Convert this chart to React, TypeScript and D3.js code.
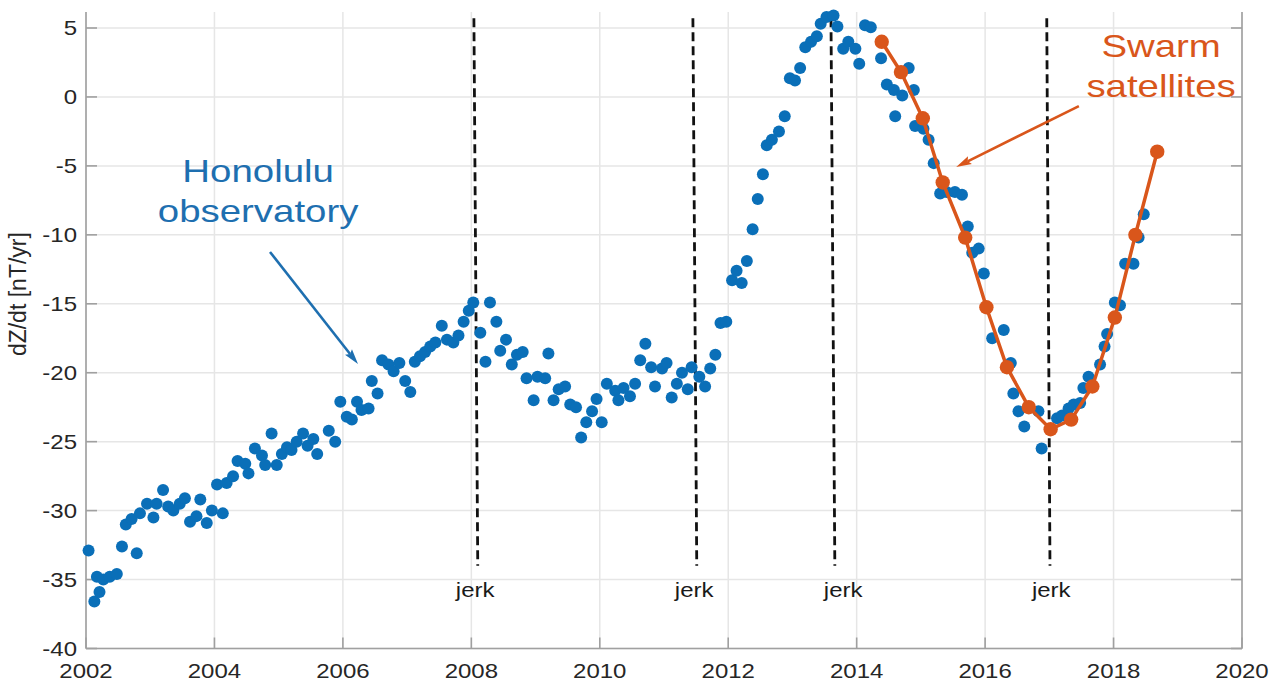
import React from "react";
import * as d3 from "d3";

// Honolulu observatory monthly dZ/dt values [year, nT/yr]
const honoluluYears = [
  2002.04, 2002.13, 2002.17, 2002.21, 2002.27, 2002.37, 2002.48, 2002.56, 2002.62, 2002.71,
  2002.79, 2002.84, 2002.95, 2003.05, 2003.10, 2003.20, 2003.28, 2003.36, 2003.46, 2003.54,
  2003.62, 2003.72, 2003.78, 2003.88, 2003.96, 2004.04, 2004.13, 2004.19, 2004.29, 2004.36,
  2004.48, 2004.53, 2004.63, 2004.74, 2004.79, 2004.89, 2004.97, 2005.05, 2005.13, 2005.20,
  2005.28, 2005.38, 2005.45, 2005.54, 2005.60, 2005.78, 2005.88, 2005.96, 2006.06, 2006.14,
  2006.22, 2006.29, 2006.40, 2006.45, 2006.54, 2006.61, 2006.71, 2006.79, 2006.88, 2006.97,
  2007.05, 2007.12, 2007.20, 2007.28, 2007.36, 2007.44, 2007.54, 2007.62, 2007.72, 2007.80,
  2007.88, 2007.96, 2008.03, 2008.14, 2008.22, 2008.29, 2008.39, 2008.45, 2008.54, 2008.63,
  2008.71, 2008.80, 2008.86, 2008.97, 2009.03, 2009.15, 2009.20, 2009.28, 2009.36, 2009.46,
  2009.54, 2009.63, 2009.71, 2009.79, 2009.88, 2009.95, 2010.03, 2010.11, 2010.24, 2010.29,
  2010.37, 2010.47, 2010.55, 2010.63, 2010.71, 2010.80, 2010.86, 2010.97, 2011.04, 2011.12,
  2011.20, 2011.28, 2011.37, 2011.43, 2011.55, 2011.64, 2011.72, 2011.80, 2011.88, 2011.97,
  2012.06, 2012.13, 2012.21, 2012.29, 2012.38, 2012.46, 2012.54, 2012.60, 2012.68, 2012.79,
  2012.88, 2012.96, 2013.04, 2013.12, 2013.20, 2013.29, 2013.38, 2013.44, 2013.53, 2013.64,
  2013.70, 2013.79, 2013.87, 2013.98, 2014.04, 2014.13, 2014.22, 2014.38, 2014.47, 2014.58,
  2014.60, 2014.71, 2014.81, 2014.89, 2014.91, 2015.04, 2015.12, 2015.20, 2015.30, 2015.40,
  2015.53, 2015.64, 2015.73, 2015.80, 2015.90, 2015.98, 2016.11, 2016.29, 2016.40, 2016.44,
  2016.52, 2016.61, 2016.83, 2016.88, 2017.12, 2017.20, 2017.30, 2017.38, 2017.48, 2017.53,
  2017.61, 2017.79, 2017.86, 2017.90, 2018.02, 2018.10, 2018.18, 2018.31, 2018.39, 2018.47,
];
const honoluluValues = [
  -32.9, -36.6, -34.8, -35.9, -35.0, -34.8, -34.6, -32.6, -31.0, -30.6,
  -33.1, -30.2, -29.5, -30.5, -29.5, -28.5, -29.7, -30.0, -29.5, -29.1,
  -30.8, -30.4, -29.2, -30.9, -30.0, -28.1, -30.2, -28.0, -27.5, -26.4,
  -26.6, -27.3, -25.5, -26.0, -26.7, -24.4, -26.7, -25.9, -25.4, -25.6,
  -25.0, -24.4, -25.3, -24.8, -25.9, -24.2, -25.0, -22.1, -23.2, -23.4,
  -22.1, -22.7, -22.6, -20.6, -21.5, -19.1, -19.4, -19.9, -19.3, -20.6,
  -21.4, -19.2, -18.8, -18.5, -18.1, -17.8, -16.6, -17.6, -17.8, -17.3,
  -16.3, -15.5, -14.9, -17.1, -19.2, -14.9, -16.3, -18.4, -17.6, -19.4,
  -18.7, -18.5, -20.4, -22.0, -20.3, -20.4, -18.6, -22.0, -21.2, -21.0,
  -22.3, -22.5, -24.7, -23.6, -22.8, -21.9, -23.6, -20.8, -21.3, -22.0,
  -21.1, -21.7, -20.8, -19.1, -17.9, -19.6, -21.0, -19.7, -19.3, -21.8,
  -20.8, -20.0, -21.2, -19.6, -20.3, -21.0, -19.7, -18.7, -16.4, -16.3,
  -13.3, -12.6, -13.5, -11.9, -9.6, -7.4, -5.6, -3.5, -3.1, -2.5,
  -1.4, 1.35, 1.2, 2.1, 3.6, 4.0, 4.4, 5.3, 5.8, 5.9,
  5.1, 3.5, 4.0, 3.5, 2.4, 5.2, 5.05, 2.8, 0.9, 0.5,
  -1.4, 0.1, 2.1, 0.5, -2.1, -2.3, -3.1, -4.8, -7.0, -6.9,
  -6.9, -7.1, -9.4, -11.3, -11.0, -12.8, -17.5, -16.9, -19.3, -21.5,
  -22.8, -23.9, -22.8, -25.5, -23.3, -23.1, -22.6, -22.3, -22.2, -21.1,
  -20.3, -19.4, -18.1, -17.2, -14.9, -15.1, -12.1, -12.1, -10.2, -8.5,
];

// Swarm satellites
const swarmYears = [
  2014.39, 2014.69, 2015.03, 2015.34, 2015.69, 2016.02, 2016.34,
  2016.68, 2017.02, 2017.34, 2017.67, 2018.02, 2018.34, 2018.68,
];
const swarmValues = [
  4.0, 1.8, -1.55, -6.2, -10.2, -15.25, -19.6,
  -22.5, -24.1, -23.4, -21.0, -16.0, -10.0, -3.97,
];

// Jerk markers (slightly slanted in the original)
const jerkTopYears = [2008.04, 2011.45, 2013.6, 2016.96];
const jerkBottomYears = [2008.1, 2011.51, 2013.66, 2017.01];
const jerkLabelYears = [2008.06, 2011.47, 2013.79, 2017.03];
const jerkLabel = "jerk";

const xTicks = [2002, 2004, 2006, 2008, 2010, 2012, 2014, 2016, 2018, 2020];
const yTicks = [5, 0, -5, -10, -15, -20, -25, -30, -35, -40];

const yLabel = "dZ/dt [nT/yr]";
const honoluluLabel = ["Honolulu", "observatory"];
const swarmLabel = ["Swarm", "satellites"];

const BLUE = "#0A6FB8";
const ORANGE = "#D9561B";
const FONT = "'Liberation Sans', Arial, Helvetica, sans-serif";

export default function App() {
  const W = 1278;
  const H = 681;
  const x = d3.scaleLinear().domain([2002, 2020]).range([86, 1242]);
  const y = d3.scaleLinear().domain([-40, 6.16]).range([648.5, 12]);

  const [x0, x1] = x.range();
  const yBottom = y(-40);
  const yTop = y.range()[1];

  const blue = honoluluYears.map((yr, i) => [yr, honoluluValues[i]] as [number, number]);
  const swarm = swarmYears.map((yr, i) => [yr, swarmValues[i]] as [number, number]);
  const line = d3
    .line<[number, number]>()
    .x((d) => x(d[0]))
    .y((d) => y(d[1]));

  const arrow = (
    from: [number, number],
    to: [number, number],
    color: string,
    head: number,
    width: number
  ) => {
    const fx = x(from[0]);
    const fy = y(from[1]);
    const tx = x(to[0]);
    const ty = y(to[1]);
    const ang = Math.atan2(ty - fy, tx - fx);
    const spread = 0.28;
    const p1 = [tx - head * Math.cos(ang - spread), ty - head * Math.sin(ang - spread)];
    const p2 = [tx - head * Math.cos(ang + spread), ty - head * Math.sin(ang + spread)];
    const bx = tx - head * 0.8 * Math.cos(ang);
    const by = ty - head * 0.8 * Math.sin(ang);
    return (
      <g>
        <line x1={fx} y1={fy} x2={bx} y2={by} stroke={color} strokeWidth={width} />
        <path d={`M${tx},${ty}L${p1[0]},${p1[1]}L${bx},${by}L${p2[0]},${p2[1]}Z`} fill={color} />
      </g>
    );
  };

  const stretched = (
    key: string,
    cx: number,
    cy: number,
    txt: string,
    size: number,
    color: string,
    anchor: string = "middle"
  ) => (
    <text
      key={key}
      transform={`translate(${cx},${cy}) scale(1.2,1)`}
      textAnchor={anchor}
      fontSize={size}
      fill={color}
      fontFamily={FONT}
    >
      {txt}
    </text>
  );

  return (
    <div style={{ position: "absolute", left: 0, top: 0, width: W, height: H, background: "#fff" }}>
      <svg width={W} height={H} style={{ display: "block" }}>
        <rect x={0} y={0} width={W} height={H} fill="#fff" />
        {/* grid */}
        <g stroke="#e6e6e6" strokeWidth={1.5}>
          {xTicks.map((t) => (
            <line key={"gx" + t} x1={x(t)} x2={x(t)} y1={yTop} y2={yBottom} />
          ))}
          {yTicks.map((t) => (
            <line key={"gy" + t} x1={x0} x2={x1} y1={y(t)} y2={y(t)} />
          ))}
        </g>
        {/* axes */}
        <g stroke="#a0a0a0" strokeWidth={1.6} fill="none">
          <line x1={x0} x2={x0} y1={yTop} y2={yBottom} />
          <line x1={x1} x2={x1} y1={yTop} y2={yBottom} />
          <line x1={x0} x2={x1} y1={yBottom} y2={yBottom} />
          {yTicks.map((t) => (
            <g key={"ty" + t}>
              <line x1={x0} x2={x0 + 11} y1={y(t)} y2={y(t)} />
              <line x1={x1} x2={x1 - 11} y1={y(t)} y2={y(t)} />
            </g>
          ))}
          {xTicks.map((t) => (
            <line key={"tx" + t} x1={x(t)} x2={x(t)} y1={yBottom} y2={yBottom - 11} />
          ))}
        </g>
        {/* tick labels */}
        {yTicks.map((t) => stretched("ly" + t, x0 - 9, y(t) + 7, String(t), 20, "#262626", "end"))}
        {xTicks.map((t) => stretched("lx" + t, x(t), yBottom + 29, String(t), 20, "#262626"))}
        <text
          transform={`translate(${x0 - 60},${y(-14.3)}) rotate(-90)`}
          textAnchor="middle"
          fontSize={23}
          fill="#262626"
          fontFamily={FONT}
        >
          {yLabel}
        </text>

        {/* jerk lines */}
        <g stroke="#111" strokeWidth={2.8} strokeDasharray="9,5">
          {jerkTopYears.map((t, i) => (
            <line key={"j" + i} x1={x(t)} x2={x(jerkBottomYears[i])} y1={y(5.7)} y2={y(-34)} />
          ))}
        </g>
        {jerkLabelYears.map((t, i) => stretched("jl" + i, x(t), y(-36.3), jerkLabel, 20, "#1a1a1a"))}

        {/* Honolulu points */}
        <g fill={BLUE}>
          {blue.map((d, i) => (
            <circle key={"b" + i} cx={x(d[0])} cy={y(d[1])} r={6} />
          ))}
        </g>

        {/* Swarm */}
        <path d={line(swarm) || ""} fill="none" stroke={ORANGE} strokeWidth={3.5} />
        <g fill={ORANGE}>
          {swarm.map((d, i) => (
            <circle key={"s" + i} cx={x(d[0])} cy={y(d[1])} r={7.2} />
          ))}
        </g>

        {/* annotations */}
        {stretched("h1", x(2004.68), y(-6.2), honoluluLabel[0], 32, "#1E6FB0")}
        {stretched("h2", x(2004.68), y(-9.1), honoluluLabel[1], 32, "#1E6FB0")}
        {arrow([2004.865, -11.24], [2006.235, -19.37], "#1E6FB0", 16, 2.6)}
        {stretched("s1", x(2018.74), y(2.9), swarmLabel[0], 32, ORANGE)}
        {stretched("s2", x(2018.74), y(0.0), swarmLabel[1], 32, ORANGE)}
        {arrow([2017.46, -0.66], [2015.55, -5.08], ORANGE, 16, 2.6)}
      </svg>
    </div>
  );
}
